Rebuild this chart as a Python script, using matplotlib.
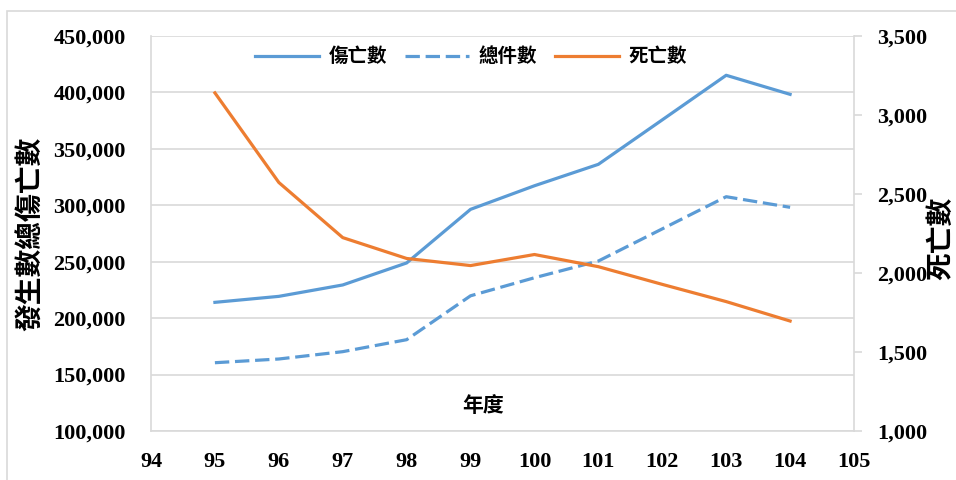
import numpy as np
import matplotlib.pyplot as plt
from matplotlib.patches import Rectangle
from matplotlib.ticker import FuncFormatter, MultipleLocator

plt.rcParams['font.family'] = ['Liberation Serif', 'Noto Sans CJK TC', 'DejaVu Sans']
plt.rcParams['font.weight'] = 'bold'

# 年度 (民國)
years = [95, 96, 97, 98, 99, 100, 101, 102, 103, 104]
# 傷亡數
casualties = [214000, 219300, 229400, 248900, 296400, 317300, 336300, 375700, 415200, 398300]
# 總件數
accidents = [160500, 163800, 170300, 180900, 219800, 235800, 250600, 279100, 307600, 298200]
# 死亡數
deaths = [3140, 2573, 2224, 2092, 2047, 2117, 2040, 1928, 1819, 1696]

blue = '#5b9bd5'
orange = '#ed7d31'
grid_c = '#d9d9d9'

fig = plt.figure(figsize=(9.56, 4.8), dpi=100)
fig.patches.append(Rectangle((7 / 956, -0.1), 1.2, 1 - 11 / 480 + 0.1, transform=fig.transFigure,
                             fill=False, edgecolor=grid_c, linewidth=1.2))

ax = fig.add_axes([151 / 956, 1 - 431 / 480, 703 / 956, 395 / 480])
ax2 = ax.twinx()

l1, = ax.plot(years, casualties, color=blue, lw=2.3, label='傷亡數')
l2, = ax.plot(years, accidents, color=blue, lw=2.3, ls=(0, (4.5, 1.8)), label='總件數')
l3, = ax2.plot(years, deaths, color=orange, lw=2.3, label='死亡數')

ax.set_xlim(94, 105)
ax.set_ylim(100000, 450000)
ax2.set_ylim(1000, 3500)
ax.set_xticks(range(94, 106))
ax.yaxis.set_major_locator(MultipleLocator(50000))
ax2.yaxis.set_major_locator(MultipleLocator(500))
fmt = FuncFormatter(lambda v, p: f'{int(v):,}')
ax.yaxis.set_major_formatter(fmt)
ax2.yaxis.set_major_formatter(fmt)

ax.grid(axis='y', color=grid_c, lw=1.2)
ax.set_axisbelow(True)
for a in (ax, ax2):
    for s in a.spines.values():
        s.set_visible(False)
for s in (ax.spines['left'], ax.spines['bottom'], ax2.spines['right']):
    s.set_visible(True)
    s.set_color(grid_c)
    s.set_linewidth(1.2)

ax.tick_params(axis='y', length=0, pad=18, labelsize=16)
ax.tick_params(axis='x', length=0, pad=15, labelsize=16)
ax2.tick_params(axis='y', length=6, color=grid_c, width=1.2, pad=11, labelsize=16)

ax.set_ylabel('發生數總傷亡數', fontsize=20, fontweight='bold')
ax.yaxis.set_label_coords(-0.151, 0.5)
fig.text(942 / 956, 1 - 238 / 480, '死亡數', rotation=90, fontsize=20, fontweight='bold',
         ha='center', va='center')
ax.text(0.473, 0.06, '年度', transform=ax.transAxes, fontsize=15, ha='center', va='center')

ax.legend(handles=[l1, l2, l3], loc='center', bbox_to_anchor=(0.455, 0.947), ncol=3,
          frameon=False, fontsize=14, handlelength=3.3, columnspacing=0.9, handletextpad=0.5)

fig.savefig('out.png', dpi=100)
